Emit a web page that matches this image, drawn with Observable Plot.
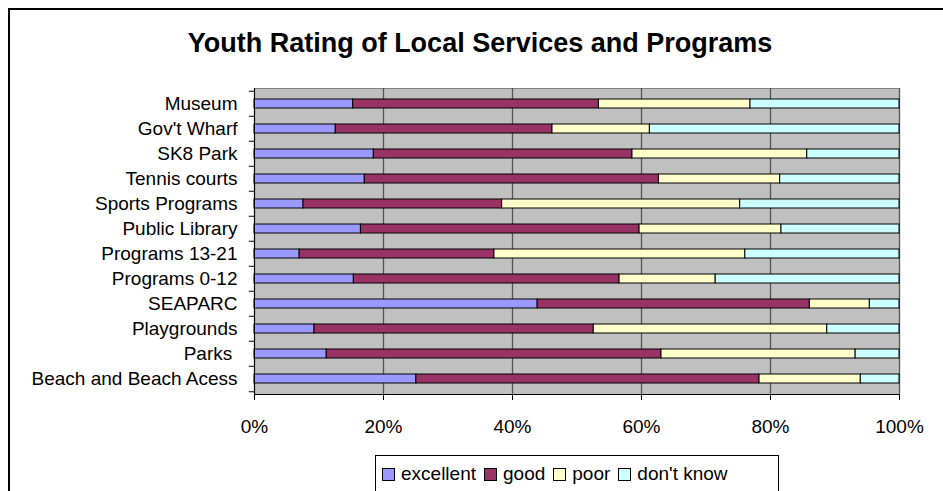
<!DOCTYPE html>
<html>
<head>
<meta charset="utf-8">
<script src="https://cdn.jsdelivr.net/npm/d3@7"></script>
<script src="https://cdn.jsdelivr.net/npm/@observablehq/plot@0.6"></script>
<style>
  html, body { margin: 0; padding: 0; background: #fff; }
  #wrap { position: relative; width: 943px; height: 491px; overflow: hidden; font-family: Arial, "Liberation Sans", sans-serif; }
  #border { position: absolute; left: 8px; top: 8px; width: 960px; height: 520px; border: 2px solid #000; box-sizing: border-box; }
  #title { position: absolute; left: 0; width: 960px; top: 28px; text-align: center; font-weight: bold; font-size: 27px; color: #000; }
  #chart { position: absolute; left: 0; top: 0; }
  #legend { position: absolute; left: 375px; top: 455px; width: 404px; height: 60px; border: 1px solid #000; box-sizing: border-box; background: #fff; display: flex; align-items: flex-start; padding: 7px 0 0 6px; font-size: 19px; color: #000; }
  .item { display: flex; align-items: center; margin-right: 8px; }
  .sw { width: 11px; height: 11px; border: 1px solid #000; margin-right: 6px; }
</style>
</head>
<body>
<div id="wrap">
  <div id="border"></div>
  <div id="title">Youth Rating of Local Services and Programs</div>
  <div id="chart"></div>
  <div id="legend"></div>
</div>
<script>
const services = ["Museum", "Gov't Wharf", "SK8 Park", "Tennis courts", "Sports Programs", "Public Library", "Programs 13-21", "Programs 0-12", "SEAPARC", "Playgrounds", "Parks ", "Beach and Beach Acess"];
const ratings = ["excellent", "good", "poor", "don't know"];
const colors = ["#9999FF", "#993366", "#FFFFCC", "#CCFFFF"];
const excellent = [15.3, 12.6, 18.5, 17.1, 7.6, 16.5, 7.0, 15.4, 43.9, 9.3, 11.2, 25.1];
const good      = [38.1, 33.6, 40.1, 45.6, 30.8, 43.2, 30.2, 41.2, 42.2, 43.3, 51.9, 53.2];
const poor      = [23.5, 15.1, 27.1, 18.8, 36.9, 22.0, 38.9, 14.9, 9.3, 36.2, 30.1, 15.7];
const dontKnow  = [23.1, 38.7, 14.3, 18.5, 24.7, 18.3, 23.9, 28.5, 4.6, 11.2, 6.8, 6.0];
const xTicks = [0, 0.2, 0.4, 0.6, 0.8, 1];

const series = [excellent, good, poor, dontKnow];
const data = [];
ratings.forEach((r, i) => services.forEach((s, j) => data.push({service: s, rating: r, value: series[i][j]})));

const H = 491, mT = 88, mB = 97;
const bw = (H - mT - mB) / services.length;

const chart = Plot.plot({
  width: 943,
  height: H,
  marginLeft: 254,
  marginRight: 44,
  marginTop: mT,
  marginBottom: mB,
  style: {fontFamily: "Arial, 'Liberation Sans', sans-serif", background: "transparent", color: "#000"},
  x: {domain: [0, 1]},
  y: {domain: services, padding: 0},
  color: {domain: ratings, range: colors},
  marks: [
    Plot.frame({fill: "#c0c0c0", stroke: "#808080"}),
    Plot.gridX({ticks: xTicks, stroke: "#555", strokeOpacity: 1, strokeWidth: 1.3}),
    Plot.barX(data, Plot.stackX({x: "value", y: "service", fill: "rating", offset: "normalize", stroke: "#000", strokeWidth: 1, insetTop: 8, insetBottom: 8})),
    Plot.frame({anchor: "left", stroke: "#000"}),
    Plot.frame({anchor: "bottom", stroke: "#000"}),
    Plot.ruleY(services, {y: d => d, x1: -0.008, x2: 0, dy: -bw / 2, stroke: "#000"}),
    Plot.ruleY(services.slice(-1), {y: d => d, x1: -0.008, x2: 0, dy: bw / 2, stroke: "#000"}),
    Plot.axisX({ticks: xTicks, tickFormat: d3.format(".0%"), tickSize: 6, tickPadding: 19, fontSize: 19, label: null, stroke: "#000"}),
    Plot.axisY({tickSize: 0, tickPadding: 17, fontSize: 19, label: null})
  ]
});
document.getElementById("chart").appendChild(chart);

const legend = document.getElementById("legend");
ratings.forEach((r, i) => {
  const it = document.createElement("div");
  it.className = "item";
  const sw = document.createElement("div");
  sw.className = "sw";
  sw.style.background = colors[i];
  const t = document.createElement("span");
  t.textContent = r;
  it.appendChild(sw); it.appendChild(t);
  legend.appendChild(it);
});
</script>
</body>
</html>
